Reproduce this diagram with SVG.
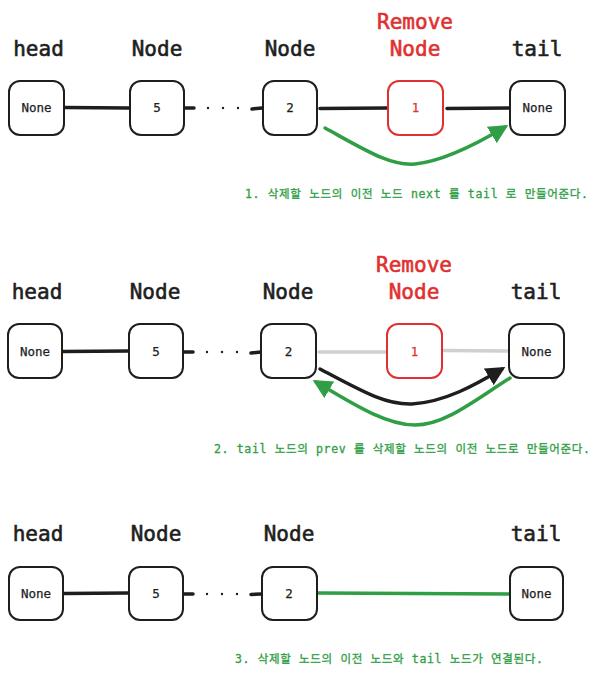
<svg xmlns="http://www.w3.org/2000/svg" width="600" height="675" viewBox="0 0 600 675">
<style>
.lbl{font-family:"DejaVu Sans Mono","Liberation Mono",monospace;font-size:21px;text-anchor:middle;fill:#1e1e1e;stroke:#1e1e1e;stroke-width:0.6}
.red{fill:#e03131;stroke:#e03131}
.box{fill:#fff;stroke:#1e1e1e;stroke-width:2}
.rbox{fill:#fff;stroke:#e03131;stroke-width:2}
.val{font-family:"DejaVu Sans Mono","Liberation Mono",monospace;font-size:12.5px;text-anchor:middle;fill:#1e1e1e;stroke:#1e1e1e;stroke-width:0.25}
.rval{fill:#e03131;stroke:#e03131}
.ln{stroke:#1e1e1e;stroke-width:3.5;fill:none;stroke-linecap:round}
.gray{stroke:#d0d0d0;stroke-width:3.5;fill:none;stroke-linecap:round}
.gr{stroke:#2f9e44;stroke-width:3.5;fill:none;stroke-linecap:round}
.dot{fill:#1e1e1e}
.cap{font-family:"DejaVu Sans Mono","Noto Sans CJK KR",monospace;font-size:11.5px;fill:#2f9e44;stroke:#2f9e44;stroke-width:0.3}
</style>
<defs>
<marker id="ag" viewBox="0 0 10 10" refX="8" refY="5" markerWidth="5.5" markerHeight="5.5" orient="auto" markerUnits="strokeWidth"><path d="M0,0 L10,5 L0,10 Z" fill="#2f9e44"/></marker>
<marker id="ab" viewBox="0 0 10 10" refX="8" refY="5" markerWidth="5.5" markerHeight="5.5" orient="auto" markerUnits="strokeWidth"><path d="M0,0 L10,5 L0,10 Z" fill="#1e1e1e"/></marker>
</defs>
<rect width="600" height="675" fill="#fff"/>

<g id="connectors">
<path class="ln" d="M65,107.5 L129,108"/>
<path class="ln" d="M185,108 L194,108"/>
<path class="ln" d="M252,109 L262,108"/>
<path class="ln" d="M320,108.5 L387,108"/>
<path class="ln" d="M447,108.5 L512,108"/>
<path class="gr" d="M325,128 C365,150 390,166 415,164 C445,161 480,142 505,127" marker-end="url(#ag)"/>
<path class="ln" d="M63,351.5 L129,351"/>
<path class="ln" d="M184,352 L193,352"/>
<path class="ln" d="M251,353 L261,352"/>
<path class="gray" d="M319,352 L387,352"/>
<path class="gray" d="M444,350.5 L508,351"/>
<path class="ln" d="M320,369 C360,390 385,405 412,404 C445,402 475,385 502,369" marker-end="url(#ab)"/>
<path class="gr" d="M510,378 C475,400 445,425 415,425 C385,425 350,402 316,382" marker-end="url(#ag)"/>
<path class="ln" d="M64,593.5 L129,593"/>
<path class="ln" d="M184,594 L193,594"/>
<path class="ln" d="M251,594.5 L262,594"/>
<path class="gr" d="M317,593 L510,594"/>
</g>

<g id="dots">
<circle class="dot" cx="208" cy="108" r="1.2"/><circle class="dot" cx="223" cy="108" r="1.2"/><circle class="dot" cx="238" cy="108" r="1.2"/>
<circle class="dot" cx="207" cy="352" r="1.2"/><circle class="dot" cx="222" cy="352" r="1.2"/><circle class="dot" cx="237" cy="352" r="1.2"/>
<circle class="dot" cx="207" cy="594" r="1.2"/><circle class="dot" cx="222" cy="594" r="1.2"/><circle class="dot" cx="237" cy="594" r="1.2"/>
</g>

<g id="p1-head"><text class="lbl" x="38.5" y="56">head</text><rect class="box" x="9" y="81" width="55" height="54" rx="11"/><text class="val" x="36.5" y="112">None</text></g>
<g id="p1-node5"><text class="lbl" x="157" y="56">Node</text><rect class="box" x="130" y="81" width="54" height="54" rx="11"/><text class="val" x="157" y="112">5</text></g>
<g id="p1-node2"><text class="lbl" x="290" y="56">Node</text><rect class="box" x="263" y="81" width="54" height="54" rx="11"/><text class="val" x="290" y="112">2</text></g>
<g id="p1-remove"><text class="lbl red" x="415" y="29">Remove</text><text class="lbl red" x="415" y="56">Node</text><rect class="rbox" x="388" y="81" width="55" height="54" rx="11"/><text class="val rval" x="415.5" y="112">1</text></g>
<g id="p1-tail"><text class="lbl" x="537" y="56">tail</text><rect class="box" x="510" y="81" width="55" height="54" rx="11"/><text class="val" x="537.5" y="112">None</text></g>
<text class="cap" x="245" y="198" textLength="343" lengthAdjust="spacing">1. 삭제할 노드의 이전 노드 next 를 tail 로 만들어준다.</text>

<g id="p2-head"><text class="lbl" x="37" y="299">head</text><rect class="box" x="8" y="324" width="54" height="54" rx="11"/><text class="val" x="35" y="356">None</text></g>
<g id="p2-node5"><text class="lbl" x="155" y="299">Node</text><rect class="box" x="129" y="324" width="54" height="54" rx="11"/><text class="val" x="156" y="356">5</text></g>
<g id="p2-node2"><text class="lbl" x="288" y="299">Node</text><rect class="box" x="261" y="324" width="55" height="54" rx="11"/><text class="val" x="288.5" y="356">2</text></g>
<g id="p2-remove"><text class="lbl red" x="414" y="272">Remove</text><text class="lbl red" x="414" y="299">Node</text><rect class="rbox" x="387" y="324" width="55" height="54" rx="11"/><text class="val rval" x="414.5" y="356">1</text></g>
<g id="p2-tail"><text class="lbl" x="536" y="299">tail</text><rect class="box" x="509" y="324" width="55" height="54" rx="11"/><text class="val" x="536.5" y="356">None</text></g>
<text class="cap" x="214" y="453" textLength="376" lengthAdjust="spacing">2. tail 노드의 prev 를 삭제할 노드의 이전 노드로 만들어준다.</text>

<g id="p3-head"><text class="lbl" x="38" y="541">head</text><rect class="box" x="9" y="567" width="54" height="53" rx="11"/><text class="val" x="36" y="598">None</text></g>
<g id="p3-node5"><text class="lbl" x="156" y="541">Node</text><rect class="box" x="129" y="567" width="54" height="53" rx="11"/><text class="val" x="156" y="598">5</text></g>
<g id="p3-node2"><text class="lbl" x="289" y="541">Node</text><rect class="box" x="262" y="567" width="55" height="53" rx="11"/><text class="val" x="289" y="598">2</text></g>
<g id="p3-tail"><text class="lbl" x="536" y="541">tail</text><rect class="box" x="510" y="567" width="53" height="53" rx="11"/><text class="val" x="536.5" y="598">None</text></g>
<text class="cap" x="235" y="663" textLength="308" lengthAdjust="spacing">3. 삭제할 노드의 이전 노드와 tail 노드가 연결된다.</text>
</svg>
